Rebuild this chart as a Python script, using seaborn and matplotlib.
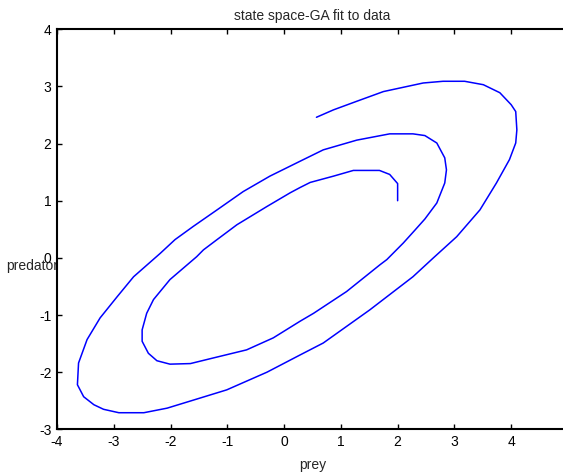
import numpy as np
import pandas as pd
import matplotlib
matplotlib.use("Agg")
import matplotlib.pyplot as plt
import seaborn as sns

# trajectory, in order: starts at (2, 1), spirals outward
prey = [2.00, 2.00, 1.86, 1.68, 1.22, 0.87, 0.46, 0.28, 0.11, -0.30, -0.83,
        -1.18, -1.42, -1.54, -2.01, -2.30, -2.42, -2.50, -2.50, -2.39, -2.24,
        -2.01, -1.65, -1.24, -0.66, -0.19, 0.28, 0.52, 1.10, 1.69, 1.81, 2.10,
        2.30, 2.48, 2.69, 2.83, 2.86, 2.83, 2.69, 2.48, 2.27, 1.86, 1.28, 0.69,
        0.28, -0.25, -0.72, -1.18, -1.60, -1.92, -2.18, -2.65, -2.94, -3.24,
        -3.47, -3.62, -3.64, -3.53, -3.35, -3.18, -2.91, -2.47, -2.06, -1.60,
        -1.01, -0.30, 0.28, 0.69, 1.51, 2.27, 2.63, 3.04, 3.45, 3.74, 3.97,
        4.08, 4.10, 4.08, 4.00, 3.80, 3.51, 3.18, 2.80, 2.45, 1.75, 1.28, 0.87,
        0.57]
predator = [1.00, 1.30, 1.46, 1.53, 1.53, 1.43, 1.32, 1.23, 1.14, 0.90, 0.58,
            0.32, 0.14, 0.02, -0.38, -0.73, -0.97, -1.26, -1.46, -1.67, -1.80,
            -1.86, -1.85, -1.75, -1.61, -1.40, -1.11, -0.97, -0.59, -0.12,
            -0.03, 0.26, 0.48, 0.68, 0.96, 1.31, 1.54, 1.75, 2.01, 2.14, 2.17,
            2.17, 2.06, 1.89, 1.69, 1.43, 1.16, 0.84, 0.55, 0.32, 0.08, -0.33,
            -0.68, -1.05, -1.43, -1.84, -2.22, -2.43, -2.57, -2.65, -2.71,
            -2.71, -2.63, -2.49, -2.31, -2.00, -1.70, -1.49, -0.91, -0.33, 0.00,
            0.37, 0.84, 1.31, 1.72, 2.01, 2.24, 2.56, 2.68, 2.89, 3.03, 3.09,
            3.09, 3.06, 2.91, 2.74, 2.59, 2.46]

x_ticks = [-4, -3, -2, -1, 0, 1, 2, 3, 4]
y_ticks = [-3, -2, -1, 0, 1, 2, 3, 4]

df = pd.DataFrame({"prey": prey, "predator": predator})

sns.set_theme(style="ticks")
plt.rcParams["font.family"] = ["Liberation Sans", "DejaVu Sans"]
plt.rcParams["axes.unicode_minus"] = False

fig = plt.figure(figsize=(5.63, 4.73), dpi=100)
ax = fig.add_axes([0.1012, 0.0924, 0.9076, 0.8457])

sns.lineplot(data=df, x="prey", y="predator", sort=False, estimator=None,
             color="#0000ff", linewidth=1.1, ax=ax)

ax.set_xlim(-4, 5)
ax.set_ylim(-3, 4)
ax.set_xticks(x_ticks)
ax.set_yticks(y_ticks)
ax.tick_params(direction="in", top=True, right=True, length=3.5, width=1,
               labelsize=10, colors="black", pad=4)
for s in ax.spines.values():
    s.set_linewidth(1.5)
    s.set_color("black")

ax.set_title("state space-GA fit to data", fontsize=10, pad=7)
ax.set_xlabel("prey", fontsize=10, va="center")
ax.xaxis.set_label_coords(0.5, -0.089)
ax.set_ylabel("predator", fontsize=10, rotation=0, ha="center", va="center")
ax.yaxis.set_label_coords(-0.049, 0.408)

fig.savefig("out.png", dpi=100)
